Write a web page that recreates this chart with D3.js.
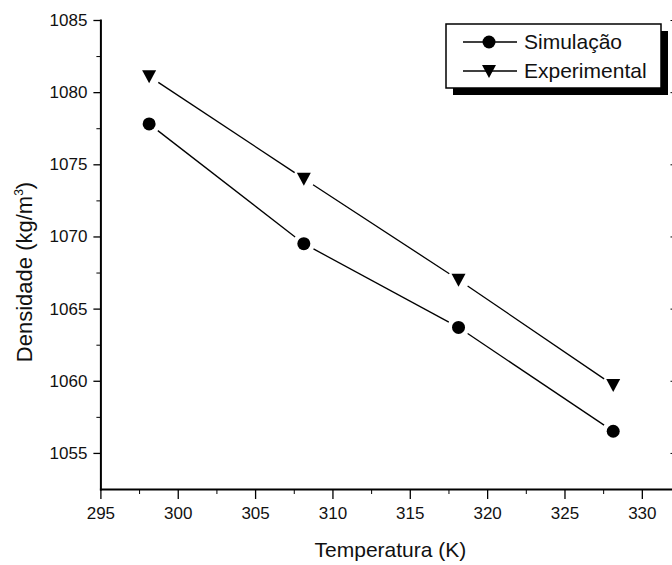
<!DOCTYPE html>
<html>
<head>
<meta charset="utf-8">
<script src="https://cdn.jsdelivr.net/npm/d3@7"></script>
<style>
  body { margin: 0; background: #fff; }
  text { font-family: "Liberation Sans", Arial, sans-serif; fill: #111; }
</style>
</head>
<body>
<script>
// temperatures (K) and densities (kg/m3)
const temps = [298.15, 308.15, 318.15, 328.15];
const simulacao = [1077.8, 1069.5, 1063.7, 1056.5];
const experimental = [1081.1, 1074.0, 1067.0, 1059.7];
const seriesNames = ['Simulação', 'Experimental'];

const xMajor = [295, 300, 305, 310, 315, 320, 325, 330];
const xMinor = [297.5, 302.5, 307.5, 312.5, 317.5, 322.5, 327.5];
const yMajor = [1055, 1060, 1065, 1070, 1075, 1080, 1085];
const yMinor = [1057.5, 1062.5, 1067.5, 1072.5, 1077.5, 1082.5];

const width = 672;
const height = 565;

const svg = d3.select('body')
  .append('svg')
    .attr('width', width)
    .attr('height', height);

svg.append('rect')
  .attr('width', width)
  .attr('height', height)
  .attr('fill', '#fff');

const x = d3.scaleLinear().domain([295, 332.5]).range([100.4, 680.5]);
const y = d3.scaleLinear().domain([1052.5, 1085]).range([489, 20]);

const plotBottom = y.range()[0];
const plotLeft = x.range()[0];
const fmt = d3.format('d');

// minor ticks first, no labels
svg.append('g')
  .attr('transform', `translate(0,${plotBottom})`)
  .call(d3.axisBottom(x).tickValues(xMinor).tickSize(5).tickSizeOuter(0).tickFormat(''))
  .call(g => g.select('.domain').remove());

svg.append('g')
  .attr('transform', `translate(${plotLeft},0)`)
  .call(d3.axisLeft(y).tickValues(yMinor).tickSize(4).tickSizeOuter(0).tickFormat(''))
  .call(g => g.select('.domain').remove());

const xAxis = svg.append('g')
  .attr('transform', `translate(0,${plotBottom})`)
  .call(d3.axisBottom(x).tickValues(xMajor).tickSize(10).tickSizeOuter(0).tickPadding(8).tickFormat(fmt));

const yAxis = svg.append('g')
  .attr('transform', `translate(${plotLeft},0)`)
  .call(d3.axisLeft(y).tickValues(yMajor).tickSize(7).tickSizeOuter(0).tickPadding(6).tickFormat(fmt));

// right axis: only inward tick stubs show at the edge
svg.append('g')
  .attr('transform', `translate(${x.range()[1]},0)`)
  .call(d3.axisLeft(y).tickValues(yMajor).tickSize(10).tickSizeOuter(0).tickFormat(''))
  .call(g => g.select('.domain').remove());

[xAxis, yAxis].forEach(g => {
  g.select('.domain').attr('stroke-width', 2).attr('stroke-linecap', 'square');
  g.selectAll('.tick line').attr('stroke-width', 1.3);
  g.selectAll('.tick text')
    .attr('font-size', 17)
    .attr('font-family', '"Liberation Sans", Arial, sans-serif')
    .attr('fill', '#222');
});
svg.selectAll('.tick line').attr('stroke', '#000');

// axis titles
svg.append('text')
  .attr('x', (x.range()[0] + x.range()[1]) / 2)
  .attr('y', 557)
  .attr('text-anchor', 'middle')
  .attr('font-size', 21)
  .text('Temperatura (K)');

const yTitle = svg.append('text')
  .attr('transform', 'translate(32,272) rotate(-90)')
  .attr('text-anchor', 'middle')
  .attr('font-size', 22);
yTitle.append('tspan').text('Densidade (kg/m');
yTitle.append('tspan').attr('font-size', 12).attr('dy', -9).text('3');
yTitle.append('tspan').attr('dy', 9).text(')');

// series
const triangle = 'M-7,-6L7,-6L0,7Z';
const gap = 11;

function drawSeries(values, marker) {
  const pts = temps.map((t, i) => [x(t), y(values[i])]);
  const g = svg.append('g');
  for (let i = 0; i < pts.length - 1; i++) {
    const [x0, y0] = pts[i];
    const [x1, y1] = pts[i + 1];
    const len = Math.hypot(x1 - x0, y1 - y0);
    const ux = (x1 - x0) / len;
    const uy = (y1 - y0) / len;
    g.append('line')
      .attr('x1', x0 + ux * gap)
      .attr('y1', y0 + uy * gap)
      .attr('x2', x1 - ux * gap)
      .attr('y2', y1 - uy * gap)
      .attr('stroke', '#000')
      .attr('stroke-width', 1.3);
  }
  g.selectAll('.pt')
    .data(pts)
    .enter()
    .append('path')
      .attr('class', 'pt')
      .attr('transform', d => `translate(${d[0]},${d[1]})`)
      .attr('d', marker)
      .attr('fill', '#000');
}

const circle = d3.symbol().type(d3.symbolCircle).size(Math.PI * 6.5 * 6.5)();
drawSeries(simulacao, circle);
drawSeries(experimental, triangle);

// legend with drop shadow
const legend = svg.append('g').attr('transform', 'translate(446,24)');
legend.append('rect')
  .attr('x', 7).attr('y', 7)
  .attr('width', 215).attr('height', 64)
  .attr('fill', '#000');
legend.append('rect')
  .attr('width', 215).attr('height', 64)
  .attr('fill', '#fff')
  .attr('stroke', '#000')
  .attr('stroke-width', 1.5);

const markers = [circle, triangle];
seriesNames.forEach((name, i) => {
  const row = legend.append('g').attr('transform', `translate(0,${18 + i * 29})`);
  row.append('line')
    .attr('x1', 17).attr('x2', 71)
    .attr('stroke', '#000').attr('stroke-width', 1.3);
  row.append('path')
    .attr('transform', 'translate(43,0)')
    .attr('d', markers[i])
    .attr('fill', '#000');
  row.append('text')
    .attr('x', 78)
    .attr('y', 7)
    .attr('font-size', 21)
    .text(name);
});
</script>
</body>
</html>
